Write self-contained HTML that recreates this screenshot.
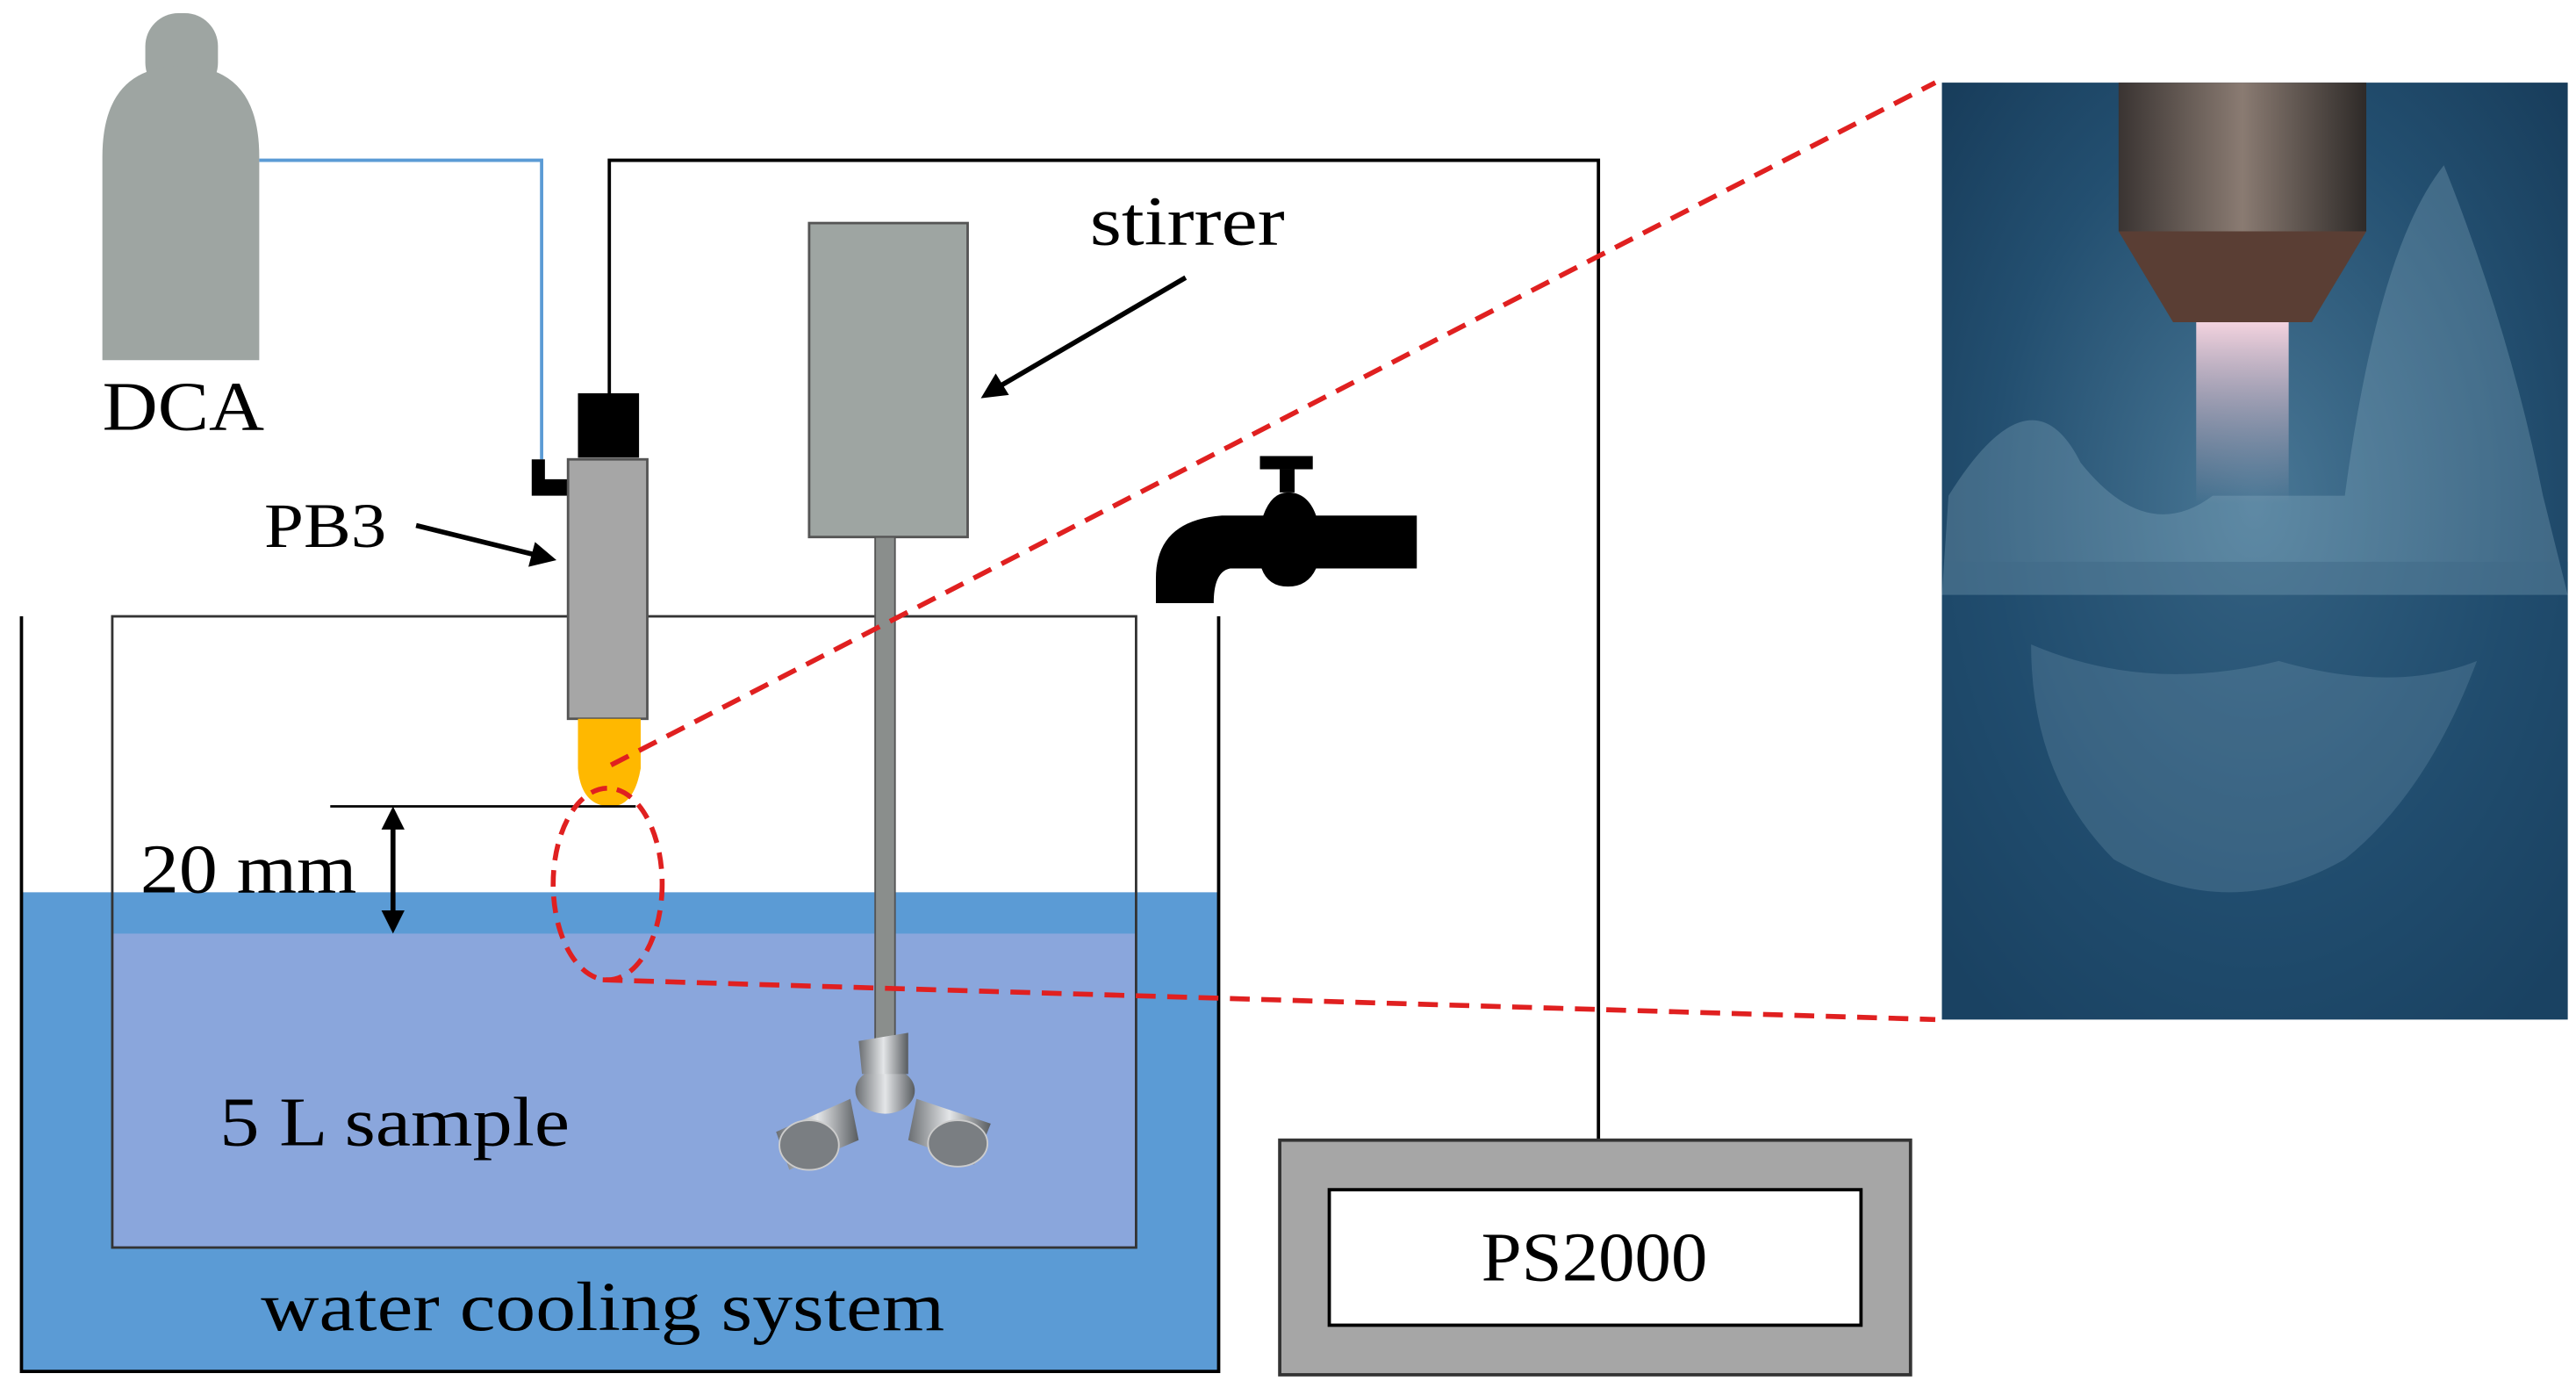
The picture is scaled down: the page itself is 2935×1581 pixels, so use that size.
<!DOCTYPE html>
<html><head><meta charset="utf-8"><style>html,body{margin:0;padding:0;background:#fff}svg{display:block}text{font-family:"Liberation Serif",serif;fill:#000}</style></head>
<body>
<svg width="2935" height="1581" viewBox="0 0 1560 840" preserveAspectRatio="none" xmlns="http://www.w3.org/2000/svg">
<defs>
<radialGradient id="bg" cx="0.5" cy="0.45" r="0.7">
<stop offset="0" stop-color="#4a7896"/><stop offset="0.6" stop-color="#234f70"/><stop offset="1" stop-color="#163a58"/></radialGradient>
<linearGradient id="noz" x1="0" x2="1"><stop offset="0" stop-color="#3a3432"/><stop offset="0.5" stop-color="#8a7b72"/><stop offset="1" stop-color="#2e2a28"/></linearGradient>
<linearGradient id="jet" x1="0" y1="0" x2="0" y2="1"><stop offset="0" stop-color="#f3d3df"/><stop offset="1" stop-color="#c9a8b8" stop-opacity="0"/></linearGradient>
<linearGradient id="met" x1="0" x2="1"><stop offset="0" stop-color="#6a6e72"/><stop offset="0.5" stop-color="#e4e6e8"/><stop offset="1" stop-color="#585c60"/></linearGradient>
</defs>
<rect x="13" y="540" width="725" height="290" fill="#5b9bd5"/>
<polyline points="13,373 13,830 738,830 738,373" fill="none" stroke="#000" stroke-width="2"/>
<rect x="68" y="565" width="620" height="190" fill="#8aa6dc"/>
<rect x="68" y="373" width="620" height="382" fill="none" stroke="#333" stroke-width="1.5"/>
<rect x="88" y="8" width="44" height="50" rx="20" fill="#9ea5a2"/>
<path d="M62,218 L62,95 Q62,40 110,40 Q157,40 157,95 L157,218 Z" fill="#9ea5a2"/>
<text x="62" y="260" font-size="42" textLength="98" lengthAdjust="spacingAndGlyphs">DCA</text>
<polyline points="157,97 328,97 328,278" fill="none" stroke="#5b9bd5" stroke-width="2"/>
<path d="M322,278 h8 v12 h15 v10 h-23 Z" fill="#000"/>
<polyline points="369,240 369,97 968,97 968,690" fill="none" stroke="#000" stroke-width="2"/>
<rect x="350" y="238" width="37" height="39" fill="#000"/>
<rect x="344" y="278" width="48" height="157" fill="#a6a6a6" stroke="#555" stroke-width="1.5"/>
<path d="M350,435 L388,435 L388,465 Q384,488 370,488 Q352,488 350,465 Z" fill="#ffb800"/>
<text x="160" y="331" font-size="38" textLength="74" lengthAdjust="spacingAndGlyphs">PB3</text>
<line x1="252" y1="318" x2="325" y2="336" stroke="#000" stroke-width="3"/>
<polygon points="337,339 320,343 324,328" fill="#000"/>
<rect x="490" y="135" width="96" height="190" fill="#9ea5a2" stroke="#555" stroke-width="1.5"/>
<text x="660" y="148" font-size="42" textLength="118" lengthAdjust="spacingAndGlyphs">stirrer</text>
<line x1="718" y1="168" x2="605" y2="234" stroke="#000" stroke-width="3"/>
<polygon points="594,241 603,226 611,239" fill="#000"/>
<rect x="530" y="325" width="12" height="320" fill="#8a8e8c" stroke="#555" stroke-width="1"/>
<g>
<ellipse cx="536" cy="660" rx="18" ry="14" fill="url(#met)"/>
<path d="M470,685 L515,665 L520,690 L478,708 Z" fill="url(#met)"/>
<ellipse cx="490" cy="693" rx="18" ry="15" fill="#7a7e82" stroke="#ccc"/>
<path d="M555,665 L600,680 L590,705 L550,690 Z" fill="url(#met)"/>
<ellipse cx="580" cy="692" rx="18" ry="14" fill="#7a7e82" stroke="#ccc"/>
<path d="M520,630 L550,625 L550,650 L522,650 Z" fill="url(#met)"/>
</g>
<rect x="763" y="276" width="32" height="8" fill="#000"/>
<rect x="775" y="284" width="9" height="14" fill="#000"/>
<path d="M700,365 L700,350 Q700,315 740,312 L765,312 Q770,298 780,298 Q792,298 797,312 L858,312 L858,344 L797,344 Q792,355 780,355 Q768,355 764,344 L745,344 Q735,346 735,365 Z" fill="#000"/>
<line x1="200" y1="488" x2="385" y2="488" stroke="#000" stroke-width="1.5"/>
<line x1="238" y1="496" x2="238" y2="557" stroke="#000" stroke-width="3"/>
<polygon points="238,488 231,502 245,502" fill="#000"/>
<polygon points="238,565 231,551 245,551" fill="#000"/>
<text x="85" y="540" font-size="42" textLength="131" lengthAdjust="spacingAndGlyphs">20 mm</text>
<text x="133" y="693" font-size="42" textLength="212" lengthAdjust="spacingAndGlyphs">5 L sample</text>
<text x="158" y="805" font-size="42" textLength="414" lengthAdjust="spacingAndGlyphs">water cooling system</text>
<rect x="775" y="690" width="382" height="142" fill="#a6a6a6" stroke="#333" stroke-width="2"/>
<rect x="805" y="720" width="322" height="82" fill="#fff" stroke="#000" stroke-width="2"/>
<text x="897" y="775" font-size="42" textLength="137" lengthAdjust="spacingAndGlyphs">PS2000</text>
<rect x="1176" y="50" width="379" height="567" fill="url(#bg)"/>
<rect x="1176" y="340" width="379" height="277" fill="#1e4a6c" opacity="0.5"/>
<path d="M1180,300 Q1230,220 1260,280 Q1300,330 1340,300 L1420,300 Q1440,150 1480,100 Q1520,200 1540,300 L1555,360 L1176,360 Z" fill="#8fb3c8" opacity="0.3"/>
<path d="M1230,390 Q1300,420 1380,400 Q1450,420 1500,400 Q1470,480 1420,520 Q1350,560 1280,520 Q1230,470 1230,390 Z" fill="#7fa5bd" opacity="0.25"/>
<rect x="1283" y="50" width="150" height="90" fill="url(#noz)"/>
<path d="M1283,140 L1433,140 L1400,195 L1316,195 Z" fill="#5a3e34"/>
<rect x="1330" y="195" width="56" height="110" fill="url(#jet)"/>
<ellipse cx="368" cy="535" rx="33" ry="58" fill="none" stroke="#e02020" stroke-width="3" stroke-dasharray="10,6"/>
<line x1="370" y1="463" x2="1172" y2="50" stroke="#e02020" stroke-width="3" stroke-dasharray="12,7"/>
<line x1="365" y1="593" x2="1172" y2="617" stroke="#e02020" stroke-width="3" stroke-dasharray="12,7"/>
</svg>
</body></html>
